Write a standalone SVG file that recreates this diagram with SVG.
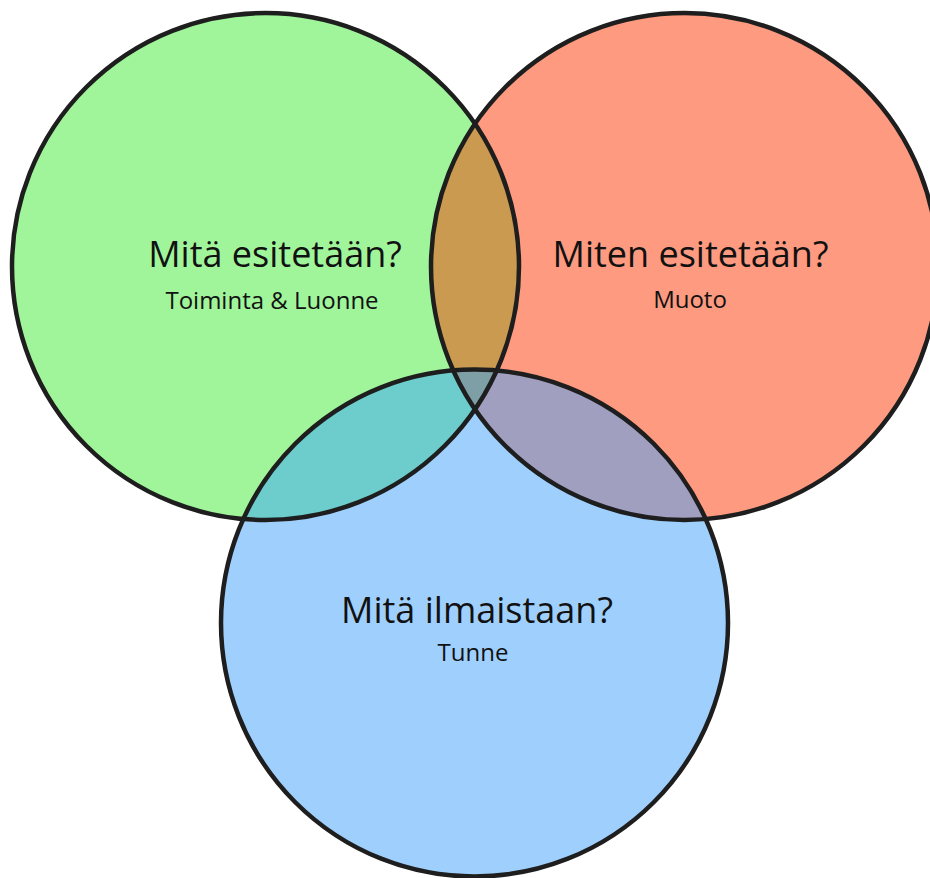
<svg xmlns="http://www.w3.org/2000/svg" width="930" height="878" viewBox="0 0 930 878">
  <style>
    .ring { fill: none; stroke: #1e1e1e; stroke-width: 4.5; }
    .title { font-family: "Open Sans", "Liberation Sans", sans-serif; font-size: 36px; fill: #111; text-anchor: middle; }
    .sub { font-family: "Open Sans", "Liberation Sans", sans-serif; font-size: 24px; fill: #111; text-anchor: middle; }
  </style>
  <defs>
    <circle id="cG" cx="265.5" cy="266.5" r="253.5"/>
    <circle id="cR" cx="684.5" cy="266.5" r="253.5"/>
    <circle id="cB" cx="474.5" cy="623" r="253.5"/>
    <clipPath id="clipG"><use href="#cG"/></clipPath>
    <clipPath id="clipR"><use href="#cR"/></clipPath>
    <clipPath id="clipB"><use href="#cB"/></clipPath>
  </defs>
  <rect width="930" height="878" fill="#ffffff"/>
  <g id="fills">
    <use href="#cG" fill="#a0f59b"/>
    <use href="#cR" fill="#fe9a7f"/>
    <use href="#cB" fill="#9fd0fd"/>
    <g clip-path="url(#clipG)"><use href="#cR" fill="#c99a4f"/></g>
    <g clip-path="url(#clipG)"><use href="#cB" fill="#6dcccc"/></g>
    <g clip-path="url(#clipR)"><use href="#cB" fill="#a09fc0"/></g>
    <g clip-path="url(#clipG)"><g clip-path="url(#clipR)"><use href="#cB" fill="#7f9fa6"/></g></g>
  </g>
  <g id="connectors"></g>
  <g id="node-green">
    <use href="#cG" class="ring"/>
    <text class="title" x="275" y="267">Mitä esitetään?</text>
    <text class="sub" x="272" y="309">Toiminta &amp; Luonne</text>
  </g>
  <g id="node-red">
    <use href="#cR" class="ring"/>
    <text class="title" x="690.5" y="267">Miten esitetään?</text>
    <text class="sub" x="690" y="308">Muoto</text>
  </g>
  <g id="node-blue">
    <use href="#cB" class="ring"/>
    <text class="title" x="477" y="623">Mitä ilmaistaan?</text>
    <text class="sub" x="473" y="661">Tunne</text>
  </g>
</svg>
